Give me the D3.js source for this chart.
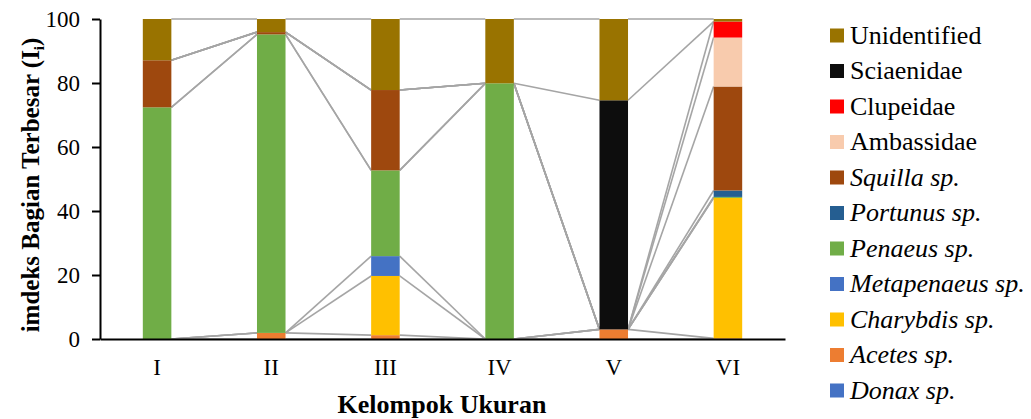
<!DOCTYPE html>
<html><head><meta charset="utf-8">
<script src="https://cdn.jsdelivr.net/npm/d3@7"></script>
<style>body{margin:0;background:#fff}svg{display:block}svg text{font-family:"Liberation Serif","Times New Roman",serif}</style>
</head><body>
<svg id="c" width="1031" height="419"></svg>
<script>
const categories = ["I","II","III","IV","V","VI"];
// stack order bottom -> top
const seriesNames = ["Donax sp.","Acetes sp.","Charybdis sp.","Metapenaeus sp.","Penaeus sp.","Portunus sp.","Squilla sp.","Ambassidae","Clupeidae","Sciaenidae","Unidentified"];
const italicFlags = [true,true,true,true,true,true,true,false,false,false,false];
const seriesColors = ["#4472c4","#ed7d31","#ffc000","#4472c4","#70ad47","#255e91","#9e480e","#f8cbad","#ff0000","#0d0d0d","#997300"];
const donax        = [0, 0,   0,    0,    0,    0];
const acetes       = [0, 1.9, 1.2,  0,    3.0,  0.2];
const charybdis    = [0, 0,   18.5, 0,    0,    43.9];
const metapenaeus  = [0, 0,   6.2,  0,    0,    0];
const penaeus      = [72.4, 93.3, 26.8, 79.9, 0, 0.3];
const portunus     = [0, 0,   0,    0,    0,    2.0];
const squilla      = [14.7, 0.7, 25.1, 0, 0,   32.5];
const ambassidae   = [0, 0,   0,    0,    0,    15.3];
const clupeidae    = [0, 0,   0,    0,    0,    5.0];
const sciaenidae   = [0, 0,   0,    0,    71.6, 0];
const unidentified = [12.9, 4.1, 22.2, 20.1, 25.4, 0.8];
const yTicks = [0,20,40,60,80,100];

const seriesValues = [donax,acetes,charybdis,metapenaeus,penaeus,portunus,squilla,ambassidae,clupeidae,sciaenidae,unidentified];
const table = categories.map((c,i)=>{const o={cat:c};seriesNames.forEach((s,k)=>o[s]=seriesValues[k][i]);return o;});
const stacked = d3.stack().keys(seriesNames)(table);

const svg = d3.select("#c");
const font = "Liberation Serif, Times New Roman, serif";
const x = d3.scaleBand().domain(categories).range([100,785]).paddingInner(0.75).paddingOuter(0.375);
const y = d3.scaleLinear().domain([0,100]).range([339,19]);

// series lines
const g = svg.append("g");
stacked.forEach(layer=>{
  for(let i=0;i<categories.length-1;i++){
    g.append("line")
      .attr("x1", x(categories[i])+x.bandwidth()).attr("y1", y(layer[i][1]))
      .attr("x2", x(categories[i+1])).attr("y2", y(layer[i+1][1]))
      .attr("stroke","#a5a5a5").attr("stroke-width",1.6);
  }
});
// bars
stacked.forEach((layer,k)=>{
  svg.append("g").selectAll("rect").data(layer).join("rect")
    .attr("x", d=>x(d.data.cat)).attr("width", x.bandwidth())
    .attr("y", d=>y(d[1])).attr("height", d=>y(d[0])-y(d[1]))
    .attr("fill", seriesColors[k]);
});

// y axis
const ya = svg.append("g").attr("transform","translate(100,0)")
  .call(d3.axisLeft(y).tickValues(yTicks).tickSize(8).tickPadding(12).tickSizeOuter(0));
ya.select(".domain").attr("stroke","#000").attr("stroke-width",2);
ya.selectAll(".tick line").attr("stroke","#000").attr("stroke-width",2);
ya.selectAll("text").attr("font-family",font).attr("font-size",23).attr("fill","#000");

// x axis
const xa = svg.append("g").attr("transform","translate(0,339)")
  .call(d3.axisBottom(x).tickSize(0).tickPadding(20).tickSizeOuter(0));
xa.select(".domain").attr("stroke","#000").attr("stroke-width",2.2);
xa.selectAll("text").attr("font-family",font).attr("font-size",23).attr("fill","#000");

// titles
svg.append("text").attr("x",442).attr("y",413).attr("text-anchor","middle")
  .attr("font-family",font).attr("font-weight","bold").attr("font-size",26).text("Kelompok Ukuran");
const yt = svg.append("text").attr("transform","translate(39,185) rotate(-90)").attr("text-anchor","middle")
  .attr("font-family",font).attr("font-weight","bold").attr("font-size",25);
yt.append("tspan").text("imdeks Bagian Terbesar (I");
yt.append("tspan").attr("font-size",15).attr("dy",5).text("i");
yt.append("tspan").attr("dy",-5).text(")");

// legend (top -> bottom is reverse of stack)
const legOrder = d3.range(seriesNames.length).reverse();
const lg = svg.append("g");
legOrder.forEach((k,i)=>{
  const cy = 35.5 + i*35.5;
  lg.append("rect").attr("x",830).attr("y",cy-7).attr("width",14).attr("height",14).attr("fill",seriesColors[k]);
  lg.append("text").attr("x",850).attr("y",cy+8).attr("font-family",font).attr("font-size",26)
    .attr("font-style", italicFlags[k]?"italic":"normal").text(seriesNames[k]);
});
</script>
</body></html>
